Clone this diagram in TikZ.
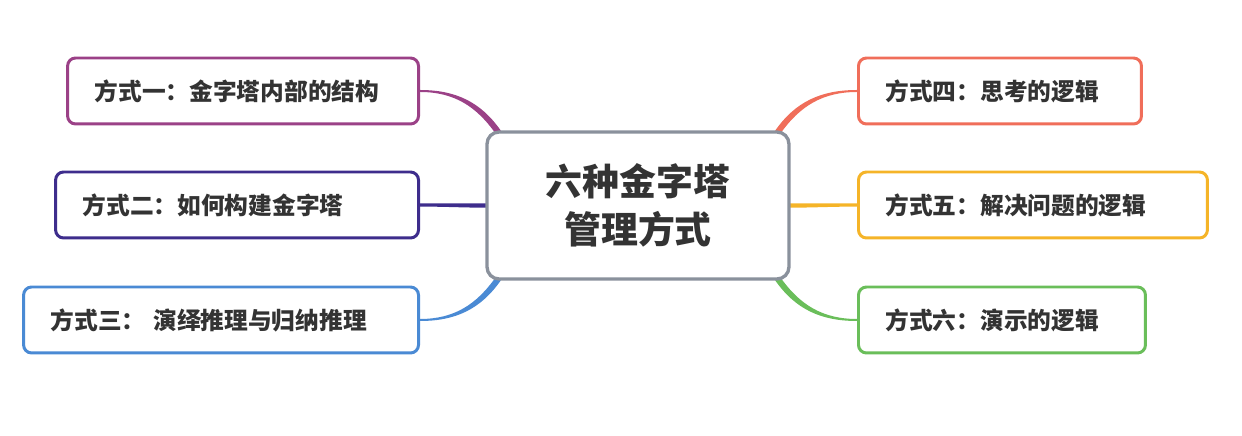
\documentclass[tikz,border=0pt]{standalone}
\usepackage{fontspec}
\usepackage{tikz}
\usetikzlibrary{calc, positioning, backgrounds}
\newfontfamily\cjk{Noto Sans CJK SC}
\definecolor{BranchPurple}{RGB}{155, 65, 135}
\definecolor{BranchIndigo}{RGB}{62, 45, 140}
\definecolor{BranchBlue}{RGB}{74, 138, 212}
\definecolor{BranchCoral}{RGB}{240, 110, 90}
\definecolor{BranchAmber}{RGB}{245, 180, 40}
\definecolor{BranchGreen}{RGB}{106, 190, 90}
\definecolor{RootGray}{RGB}{138, 145, 156}
\definecolor{InkGray}{RGB}{51, 51, 51}

% tapered branch: colour, from, to, out angle, in angle, half width at from, half width at to
\newcommand{\branch}[7]{%
  \fill[#1] ($(#2)+(#4+90:#6)$) to[out=#4, in=#5] ($(#3)+(#5-90:#7)$)
    -- ($(#3)+(#5+90:#7)$) to[out=#5, in=#4] ($(#2)+(#4-90:#6)$) -- cycle;}

\begin{document}
\begin{tikzpicture}[x=0.02cm, y=0.02cm,
    leaf/.style={draw=#1, line width=1.7pt, rounded corners=0.16cm, fill=white,
      minimum height=1.32cm, inner xsep=0.54cm, align=left, text=InkGray,
      font=\cjk\bfseries\fontsize{13.5}{16}\selectfont},
    root/.style={draw=RootGray, line width=1.9pt, rounded corners=0.24cm, fill=white,
      minimum width=6.04cm, minimum height=2.94cm, align=center, text=InkGray,
      font=\cjk\bfseries\fontsize{21}{27}\selectfont}]
    \useasboundingbox (0,0) rectangle (1242,436);

    % Centro
    \node[root] (root) at (638,230.5) {六种金字塔\\管理方式};

    % Izquierda
    \node[leaf=BranchPurple, text width=5.94cm, anchor=east] (m1) at (420,345) {方式一：金字塔内部的结构};
    \node[leaf=BranchIndigo, text width=6.18cm, anchor=east] (m2) at (420,231) {方式二：如何构建金字塔};
    \node[leaf=BranchBlue, text width=6.82cm, anchor=east] (m3) at (420,116) {方式三： 演绎推理与归纳推理};

    % Derecha
    \node[leaf=BranchCoral, text width=4.58cm, anchor=west] (m4) at (857,345) {方式四：思考的逻辑};
    \node[leaf=BranchAmber, text width=5.90cm, anchor=west] (m5) at (857,231) {方式五：解决问题的逻辑};
    \node[leaf=BranchGreen, text width=4.66cm, anchor=west] (m6) at (857,116) {方式六：演示的逻辑};

    % Ramas
    \begin{pgfonlayer}{background}
    \branch{BranchPurple}{m1.east}{$(root.north west)+(13,-2)$}{0}{125}{1}{3}
    \branch{BranchIndigo}{m2.east}{$(root.west)+(4,0)$}{0}{180}{1.6}{2.2}
    \branch{BranchBlue}{m3.east}{$(root.south west)+(13,2)$}{0}{-125}{1}{3}
    \branch{BranchCoral}{m4.west}{$(root.north east)+(-13,-2)$}{180}{55}{1}{3}
    \branch{BranchAmber}{m5.west}{$(root.east)+(-4,0)$}{180}{0}{1.6}{2.2}
    \branch{BranchGreen}{m6.west}{$(root.south east)+(-13,2)$}{180}{-55}{1}{3}
    \end{pgfonlayer}
\end{tikzpicture}
\end{document}
